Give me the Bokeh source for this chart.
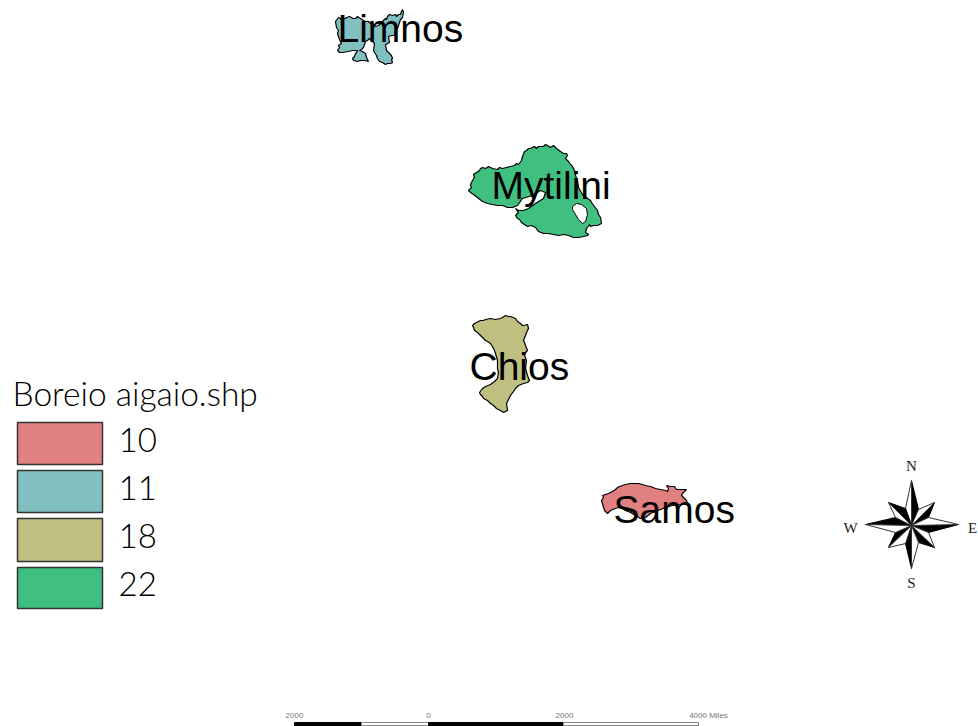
from bokeh.plotting import figure
from bokeh.embed import file_html
from bokeh.resources import INLINE
from bokeh.core.properties import value
from bokeh.models import Range1d

# Map coordinates are the screen-sized map units of the reference.
limnos_x = [335,338,340,341,343,345,346,349,351,352,355,357,358,360,363,365,368,370,373,375,378,380,383,385,386,387,389,392,395,396,398,400,401,402,403,402,400,399,398,397,395,394,391,388,389,385,386,388,391,392,391,392,390,387,385,382,379,377,376,374,373,374,371,369,367,365,364,363,361,359,362,365,366,367,368,364,360,357,353,352,354,355,356,357,354,352,348,342,339,337,339,338,341,339,337,338,336]
limnos_y = [21,17,18,19,18,18,17,16,17,18,18,16,17,18,20,21,21,23,24,26,25,23,20,18,19,16,14,15,14,16,14,14,11,9,12,17,19,22,25,28,31,35,35,36,42,44,50,52,55,58,59,62,63,63,64,62,61,58,55,52,50,43,40,38,40,41,44,47,49,50,51,53,57,59,61,60,60,61,60,58,56,53,52,50,50,50,51,52,52,50,47,45,43,39,33,30,27]

mytilini_x = [468,471,470,472,474,473,476,479,480,482,485,488,490,492,497,499,502,506,510,514,516,518,521,522,524,526,528,530,534,536,538,543,545,547,550,553,556,560,563,566,567,565,568,570,572,574,575,577,578,582,585,587,590,591,594,597,598,600,601,597,593,590,589,586,585,588,587,583,578,573,568,563,558,553,548,543,538,535,531,527,524,521,519,517,515,518,515,518,523,528,535,543,545,540,532,522,517,512,507,502,497,492,487,482,477,473,470]
mytilini_y = [190,187,184,180,177,174,172,170,168,167,168,166,167,168,169,167,168,167,166,165,163,164,160,156,151,150,148,148,146,148,146,146,144,145,147,145,148,151,153,153,155,158,161,164,166,170,175,180,187,194,196,198,200,202,206,210,214,217,223,225,225,226,224,228,232,234,235,236,237,237,235,234,235,234,233,233,231,227,225,226,224,222,219,218,215,212,208,210,210,208,203,198,192,190,195,198,205,207,207,205,205,204,203,201,197,194,192]
lake_x = [572,576,581,586,587,585,582,578,575,572]
lake_y = [206,203,204,208,214,221,223,219,214,209]

chios_x = [472,474,476,480,483,485,490,495,500,502,505,508,510,515,517,520,522,523,527,528,527,526,525,523,524,525,527,525,524,526,525,527,529,527,523,518,515,513,510,508,506,507,505,503,500,496,493,490,487,483,482,480,479,482,485,490,494,497,498,497,497,495,494,492,490,487,485,480,477,474,473]
chios_y = [325,323,322,320,320,319,318,319,318,317,315,316,316,318,321,323,325,325,324,328,330,332,335,340,342,345,350,352,355,360,368,375,380,382,383,385,388,391,395,399,403,410,411,412,410,408,405,403,400,398,396,394,392,388,386,384,381,378,372,368,360,353,350,346,343,341,340,335,332,330,327]

samos_x = [601,603,602,605,608,612,615,617,619,622,625,630,634,638,642,645,650,655,660,665,667,668,666,670,674,676,678,683,686,682,681,684,686,687,680,672,665,660,655,650,645,640,635,630,625,622,618,615,610,607,604]
samos_y = [500,497,495,494,493,491,489,487,486,485,484,483,483,483,484,485,486,488,489,490,491,488,485,486,486,489,489,489,489,493,495,498,500,503,504,505,507,509,511,513,517,518,515,512,510,508,507,508,510,513,510]

place_names = ["Limnos", "Mytilini", "Chios", "Samos"]
place_x = [337, 491, 469, 613]
place_y = [28, 185, 366, 509]
class_colors = ["#E08080", "#80C0C0", "#BFBF80", "#40C080"]
legend_title = "Boreio aigaio.shp"
legend_labels = ["10", "11", "18", "22"]
legend_left = [17, 17, 17, 17]
legend_right = [102, 102, 102, 102]
legend_top = [422, 470, 518, 567]
legend_bottom = [464, 512, 561, 608]
legend_text_y = [439, 487, 535, 583]

rose_center = (911, 525)
rose_tips = [(911,480),(934,502),(958,524),(934,547),(911,568),(888,547),(865,524),(888,502)]
rose_waist = [(918,509),(928,517),(928,532),(918,542),(905,543),(895,532),(895,517),(905,508)]
rose_labels = ["N", "E", "S", "W"]
rose_label_x = [911, 972, 911, 850]
rose_label_y = [465, 527, 582, 527]

scale_edges = [294, 361, 428, 563, 698]
scale_fill = ["black", "white", "black", "white"]
scale_labels = ["2000", "0", "2000", "4000 Miles"]
scale_label_x = [294, 428, 564, 708]

p = figure(width=978, height=726, output_backend="svg", toolbar_location=None,
           x_range=Range1d(0, 978), y_range=Range1d(726, 0), min_border=0,
           outline_line_color=None)
p.xaxis.visible = False
p.yaxis.visible = False
p.grid.visible = False

p.patch(limnos_x, limnos_y, fill_color=class_colors[1], line_color="black", line_width=1.2)
p.patch(mytilini_x, mytilini_y, fill_color=class_colors[3], line_color="black", line_width=1.2)
p.patch(lake_x, lake_y, fill_color="white", line_color="black", line_width=1)
p.patch(chios_x, chios_y, fill_color=class_colors[2], line_color="black", line_width=1.2)
p.patch(samos_x, samos_y, fill_color=class_colors[0], line_color="black", line_width=1.2)

p.text(place_x, place_y, text=place_names, text_font=value("Liberation Sans"), text_font_size="39px",
       text_baseline="middle", text_align="left", text_color="black")

p.text([12], [392], text=[legend_title], text_font=value("Lato Light"), text_font_size="33.5px",
       text_baseline="middle", text_color="black")
p.quad(left=legend_left, right=legend_right, top=legend_top, bottom=legend_bottom,
       fill_color=class_colors, line_color="#333333", line_width=1.5)
p.text([118]*4, legend_text_y, text=legend_labels, text_font=value("Lato Light"), text_font_size="33px",
       text_baseline="middle", text_color="black")

cx, cy = rose_center
for i in range(8):
    tx, ty = rose_tips[i]
    a = rose_waist[i]
    b = rose_waist[i-1]
    p.patch([tx, a[0], cx], [ty, a[1], cy], fill_color="black", line_color="black", line_width=1)
    p.patch([tx, b[0], cx], [ty, b[1], cy], fill_color="white", line_color="#333333", line_width=1)
p.text(rose_label_x, rose_label_y, text=rose_labels, text_font=value("Liberation Serif"), text_font_size="15px",
       text_baseline="middle", text_align="center", text_color="#222222")

p.quad(left=scale_edges[:-1], right=scale_edges[1:], top=[722]*4, bottom=[725]*4,
       fill_color=scale_fill, line_color=["black", "#888888", "black", "#888888"], line_width=1)
p.text(scale_label_x, [715]*4, text=scale_labels, text_font=value("Liberation Sans"), text_font_size="8px",
       text_baseline="middle", text_align="center", text_color="#777777")

open("out.html", "w").write(file_html(p, INLINE))
